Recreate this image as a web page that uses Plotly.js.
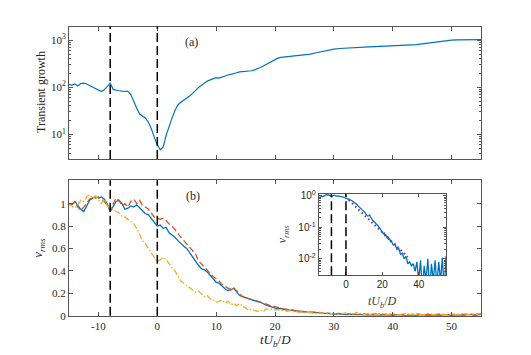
<!DOCTYPE html>
<html>
<head>
<meta charset="utf-8">
<script src="https://cdn.plot.ly/plotly-3.0.1.min.js"></script>
<style>
  html, body { margin: 0; padding: 0; background: #fff; }
  #chart { width: 531px; height: 355px; }
</style>
</head>
<body>
<div id="chart"></div>
<script>
// time axis tU_b/D, shared by every curve
const time = [
  -15, -14.5, -14, -13.5, -13, -12.5, -12, -11.5, -11, -10.5,
  -10, -9.5, -9, -8.5, -8, -7.5, -7, -6.5, -6, -5.5,
  -5, -4.5, -4, -3.5, -3, -2.5, -2, -1.5, -1, -0.5,
  0, 0.5, 1, 1.5, 2, 2.5, 3, 3.5, 4, 4.5,
  5, 5.5, 6, 6.5, 7, 7.5, 8, 8.5, 9, 9.5,
  10, 10.5, 11, 11.5, 12, 12.5, 13, 13.5, 14, 14.5,
  15, 15.5, 16, 16.5, 17, 17.5, 18, 18.5, 19, 19.5,
  20, 20.5, 21, 21.5, 22, 22.5, 23, 23.5, 24, 24.5,
  25, 26, 27, 28, 29, 30, 31, 32, 33, 34,
  35, 36, 37, 38, 39, 40, 41, 42, 43, 44,
  45, 46, 47, 48, 49, 50, 51, 52, 53, 54,
  55
];

// panel (a): transient growth
const growth = [
  115, 110, 118, 106, 120, 122, 117, 108, 100, 92,
  86, 81, 88, 104, 123, 90, 86, 84, 83, 84,
  82, 70, 48, 36, 27, 24, 22, 18, 13, 8.5,
  6.0, 4.7, 5.3, 9.5, 15, 22, 32, 42, 48, 53,
  58, 65, 74, 86, 98, 110, 122, 135, 143, 150,
  160, 156, 166, 170, 182, 188, 199, 203, 211, 213,
  218, 223, 224, 233, 245, 262, 282, 305, 330, 360,
  390, 415, 430, 438, 442, 446, 448, 455, 465, 478,
  488, 505, 540, 580, 620, 645, 665, 680, 690, 702,
  712, 720, 728, 735, 745, 755, 765, 772, 780, 800,
  830, 865, 905, 945, 975, 1000, 1015, 1025, 1030, 1032,
  1030
];

// panel (b): v_rms, three cases
const vrmsBlue = [
  1.00, 0.99, 1.02, 0.98, 0.95, 0.93, 0.98, 1.03, 1.05, 1.06,
  1.05, 1.06, 1.04, 1.00, 0.93, 0.98, 1.02, 1.03, 1.00, 0.95,
  0.96, 0.98, 0.97, 0.99, 0.96, 0.94, 0.91, 0.90, 0.87, 0.84,
  0.80, 0.81, 0.78, 0.79, 0.74, 0.72, 0.70, 0.67, 0.64, 0.62,
  0.60, 0.56, 0.52, 0.48, 0.45, 0.42, 0.41, 0.39, 0.36, 0.33,
  0.30, 0.29, 0.26, 0.24, 0.225, 0.23, 0.245, 0.21, 0.18, 0.17,
  0.16, 0.15, 0.14, 0.13, 0.125, 0.12, 0.105, 0.095, 0.085, 0.078,
  0.072, 0.062, 0.066, 0.054, 0.056, 0.047, 0.050, 0.041, 0.043, 0.035,
  0.036, 0.027, 0.029, 0.020, 0.021, 0.014, 0.015, 0.010, 0.012, 0.007,
  0.008, 0.006, 0.007, 0.004, 0.008, 0.002, 0.009, 0.001, 0.006, 0.002,
  0.010, 0.001, 0.007, 0.002, 0.009, 0.0015, 0.008, 0.002, 0.011, 0.001,
  0.012
];
const vrmsOrange = [
  0.99, 1.00, 1.01, 0.97, 0.94, 0.97, 1.01, 1.04, 1.06, 1.05,
  1.06, 1.04, 1.02, 0.98, 0.95, 1.00, 1.05, 1.03, 0.98, 1.00,
  0.97, 1.02, 1.04, 1.00, 1.03, 0.98, 0.97, 0.95, 0.91, 0.88,
  0.87, 0.86, 0.87, 0.85, 0.82, 0.80, 0.77, 0.73, 0.70, 0.67,
  0.64, 0.61, 0.58, 0.55, 0.49, 0.46, 0.44, 0.41, 0.37, 0.35,
  0.33, 0.31, 0.28, 0.26, 0.245, 0.24, 0.25, 0.22, 0.19, 0.17,
  0.16, 0.15, 0.145, 0.14, 0.13, 0.12, 0.11, 0.10, 0.09, 0.085,
  0.08, 0.07, 0.065, 0.06, 0.055, 0.05, 0.048, 0.045, 0.042, 0.04,
  0.036, 0.03, 0.028, 0.025, 0.02, 0.018, 0.02, 0.014, 0.018, 0.012,
  0.016, 0.01, 0.015, 0.009, 0.014, 0.011, 0.008, 0.014, 0.01, 0.016,
  0.009, 0.012, 0.008, 0.013, 0.01, 0.014, 0.008, 0.012, 0.015, 0.009,
  0.013
];
const vrmsYellow = [
  1.00, 0.98, 0.96, 0.99, 1.03, 1.02, 1.06, 1.08, 1.05, 1.07,
  1.03, 1.00, 1.04, 0.98, 0.96, 0.95, 0.93, 0.92, 0.89, 0.88,
  0.86, 0.84, 0.82, 0.78, 0.73, 0.67, 0.64, 0.60, 0.55, 0.51,
  0.48, 0.50, 0.52, 0.50, 0.47, 0.43, 0.40, 0.35, 0.31, 0.29,
  0.27, 0.25, 0.23, 0.21, 0.22, 0.19, 0.17, 0.18, 0.15, 0.14,
  0.12, 0.13, 0.14, 0.11, 0.13, 0.10, 0.11, 0.09, 0.11, 0.08,
  0.07, 0.05, 0.06, 0.045, 0.04, 0.05, 0.035, 0.06, 0.055, 0.06,
  0.05, 0.055, 0.045, 0.05, 0.04, 0.045, 0.035, 0.04, 0.03, 0.035,
  0.025, 0.03, 0.02, 0.025, 0.015, 0.02, 0.01, 0.025, 0.012, 0.03,
  0.01, 0.022, 0.008, 0.02, 0.012, 0.018, 0.006, 0.02, 0.01, 0.015,
  0.008, 0.02, 0.01, 0.018, 0.007, 0.016, 0.01, 0.02, 0.008, 0.015,
  0.02
];

// exponential fit shown in the inset
const fitTime = [1.5, 34];
const fitValue = [0.72, 0.0115];

// dashed reference instants
const markerTimes = [-8, 0];

const timeTicks = [-10, 0, 10, 20, 30, 40, 50];
const timeTickText = ['-10', '0', '10', '20', '30', '40', '50'];
const growthTicks = [10, 100, 1000];
const growthTickText = ['10<sup>1</sup>', '10<sup>2</sup>', '10<sup>3</sup>'];
const vrmsTicks = [0, 0.2, 0.4, 0.6, 0.8, 1];
const vrmsTickText = ['0', '0.2', '0.4', '0.6', '0.8', '1'];
const insetTimeTicks = [0, 20, 40];
const insetLogTicks = [0.01, 0.1, 1];
const insetLogTickText = ['10<sup>-2</sup>', '10<sup>-1</sup>', '10<sup>0</sup>'];

const BLUE = '#0072BD';
const ORANGE = '#D95319';
const YELLOW = '#EDB120';
const PURPLE = '#7E2F8E';
const AXIS = '#555555';
const TEXT = '#262626';
const SERIF = 'Liberation Serif, Times New Roman, serif';
const SANS = 'Liberation Sans, Arial, sans-serif';

const W = 531, H = 355;
const px = v => v / W;
const py = v => (H - v) / H;

// 2..9 between each pair of decades, for log minor ticks
const logMinor = (decades) => {
  const out = [];
  decades.forEach(d => { for (let k = 2; k <= 9; k++) out.push(+(k * d).toPrecision(3)); });
  return out;
};

const axisBase = (extra) => Object.assign({
  showline: true,
  linecolor: AXIS,
  linewidth: 1,
  mirror: 'allticks',
  ticks: 'inside',
  ticklen: 4,
  tickwidth: 1,
  tickcolor: AXIS,
  showgrid: false,
  zeroline: false,
  tickfont: { family: SERIF, size: 11, color: TEXT }
}, extra);

const minorLog = (vals) => ({
  tickmode: 'array', tickvals: vals,
  ticks: 'inside', ticklen: 2, tickcolor: AXIS, showgrid: false
});

const data = [
  { x: time, y: growth, xaxis: 'x', yaxis: 'y', type: 'scatter', mode: 'lines',
    line: { color: BLUE, width: 1.2 } },
  { x: time, y: vrmsBlue, xaxis: 'x2', yaxis: 'y2', type: 'scatter', mode: 'lines',
    line: { color: BLUE, width: 1.3 } },
  { x: time, y: vrmsOrange, xaxis: 'x2', yaxis: 'y2', type: 'scatter', mode: 'lines',
    line: { color: ORANGE, width: 1.3, dash: '6px,3px' } },
  { x: time, y: vrmsYellow, xaxis: 'x2', yaxis: 'y2', type: 'scatter', mode: 'lines',
    line: { color: YELLOW, width: 1.3, dash: '6px,2px,1.5px,2px' } },
  { x: time, y: vrmsBlue, xaxis: 'x3', yaxis: 'y3', type: 'scatter', mode: 'lines',
    line: { color: BLUE, width: 1.3 } },
  { x: fitTime, y: fitValue, xaxis: 'x3', yaxis: 'y3', type: 'scatter', mode: 'lines',
    line: { color: PURPLE, width: 2, dash: '1.5px,3px' } }
];

const mainX = [px(69), px(481)];

const shapes = [];
[['x', 'y'], ['x2', 'y2'], ['x3', 'y3']].forEach(([xa, ya]) => {
  markerTimes.forEach(t => {
    shapes.push({
      type: 'line', xref: xa, yref: ya + ' domain',
      x0: t, x1: t, y0: 0, y1: 1,
      line: { color: '#000', width: 1.5, dash: '9px,4px' }
    });
  });
});

const ann = (text, x, y, opts) => Object.assign({
  text, x: px(x), y: py(y), xref: 'paper', yref: 'paper',
  showarrow: false, xanchor: 'center', yanchor: 'middle',
  font: { family: SERIF, size: 12, color: TEXT }
}, opts);

const layout = {
  width: W,
  height: H,
  margin: { l: 0, r: 0, t: 0, b: 0 },
  paper_bgcolor: '#fff',
  plot_bgcolor: '#fff',
  showlegend: false,
  xaxis: axisBase({ domain: mainX, anchor: 'y', range: [-15, 55],
    tickmode: 'array', tickvals: timeTicks, showticklabels: false }),
  yaxis: axisBase({ domain: [py(159), py(26.5)], anchor: 'x', type: 'log', range: [0.475, 3.29],
    tickmode: 'array', tickvals: growthTicks, ticktext: growthTickText,
    minor: minorLog(logMinor([1, 10, 100, 1000])) }),
  xaxis2: axisBase({ domain: mainX, anchor: 'y2', range: [-15, 55],
    tickmode: 'array', tickvals: timeTicks, ticktext: timeTickText }),
  yaxis2: axisBase({ domain: [py(315.7), py(180.3)], anchor: 'x2', range: [0, 1.209],
    tickmode: 'array', tickvals: vrmsTicks, ticktext: vrmsTickText }),
  xaxis3: axisBase({ domain: [px(318.7), px(446)], anchor: 'y3', range: [-15, 55],
    tickmode: 'array', tickvals: insetTimeTicks, ticklen: 3,
    tickfont: { family: SANS, size: 10, color: TEXT } }),
  yaxis3: axisBase({ domain: [py(275.3), py(194)], anchor: 'x3', type: 'log', range: [-2.52, 0.05],
    tickmode: 'array', tickvals: insetLogTicks, ticktext: insetLogTickText, ticklen: 3,
    minor: minorLog(logMinor([0.001, 0.01, 0.1])), tickfont: { family: SANS, size: 10, color: TEXT } }),
  shapes,
  annotations: [
    ann('Transient growth', 40.5, 92.5, { textangle: -90 }),
    ann('(a)', 191.5, 42.5),
    ann('(b)', 192.5, 196.5),
    ann('<i>v<sub>rms</sub></i>', 38.8, 248, { textangle: -90, font: { family: SERIF, size: 13, color: TEXT } }),
    ann('<i>tU<sub>b</sub></i>/<i>D</i>', 275, 340, { font: { family: SERIF, size: 13, color: TEXT } }),
    ann('<i>tU<sub>b</sub></i>/<i>D</i>', 382, 301.7, { font: { family: SERIF, size: 12, color: '#404040' } }),
    ann('<i>v<sub>rms</sub></i>', 283.3, 234, { textangle: -90, font: { family: SERIF, size: 12, color: '#404040' } })
  ]
};

Plotly.newPlot('chart', data, layout, { displayModeBar: false, staticPlot: true });
</script>
</body>
</html>
